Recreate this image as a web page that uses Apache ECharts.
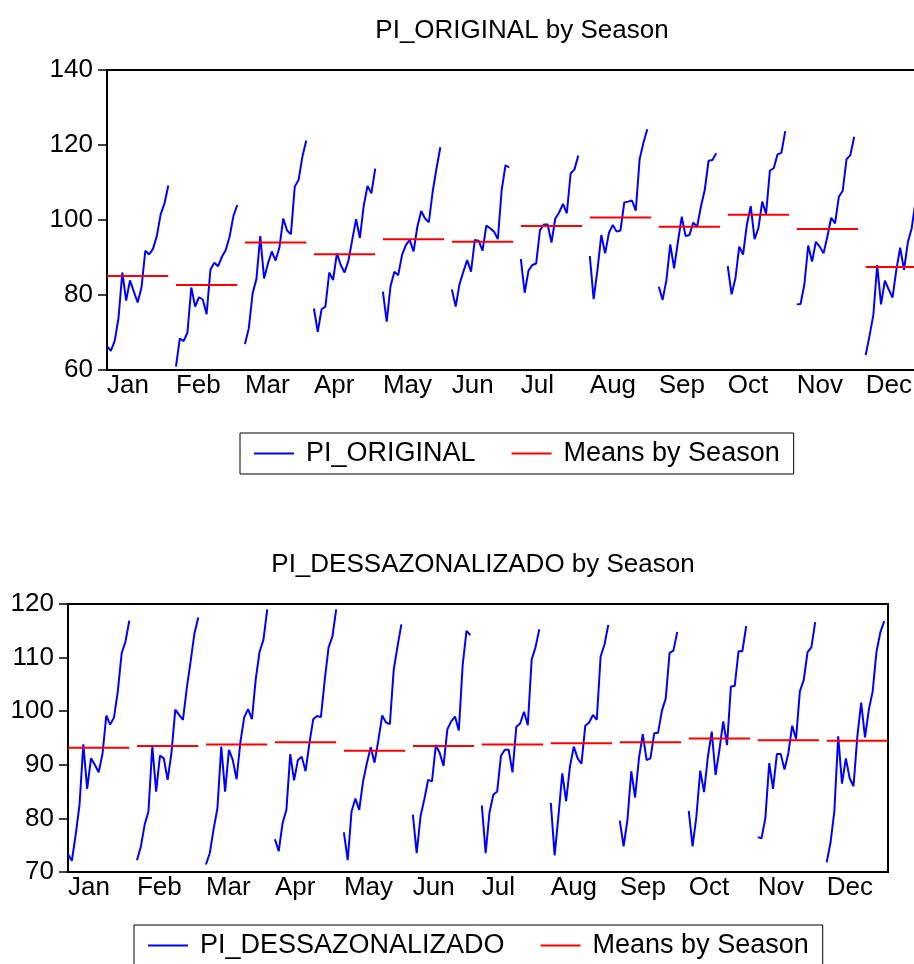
<!DOCTYPE html>
<html>
<head>
<meta charset="utf-8">
<script src="https://cdn.jsdelivr.net/npm/echarts@6/dist/echarts.min.js"></script>
<style>
  html, body { margin: 0; padding: 0; background: #fff; overflow: hidden; }
  /* wider than the window: the top plot runs past the right edge, as in the original */
  #chart { width: 940px; height: 964px; }
</style>
</head>
<body>
<div id="chart"></div>
<script>
var months = ['Jan', 'Feb', 'Mar', 'Apr', 'May', 'Jun', 'Jul', 'Aug', 'Sep', 'Oct', 'Nov', 'Dec'];

// PI_ORIGINAL, one row per month (years in order)
var origJan = [66.4, 65.1, 67.7, 73.8, 86.0, 78.5, 83.9, 80.9, 78.0, 82.0, 91.8, 90.8, 92.3, 95.7, 101.5, 104.4, 109.2];
var origFeb = [60.9, 68.4, 67.7, 70.0, 82.0, 76.9, 79.4, 78.8, 74.9, 86.8, 88.6, 87.7, 90.2, 92.0, 95.6, 101.1, 104.0];
var origMar = [66.9, 71.1, 80.4, 84.3, 95.7, 84.4, 88.4, 91.6, 89.2, 92.7, 100.4, 97.2, 96.2, 108.9, 110.7, 116.9, 121.2];
var origApr = [76.4, 70.2, 76.2, 76.9, 86.0, 84.0, 91.1, 88.0, 86.0, 89.1, 94.7, 100.2, 95.2, 103.8, 109.1, 107.1, 113.7];
var origMay = [80.9, 72.9, 82.4, 86.2, 85.3, 90.7, 93.3, 94.7, 91.6, 98.2, 102.4, 100.4, 99.4, 107.6, 113.8, 119.4];
var origJun = [81.5, 76.9, 82.9, 86.2, 89.3, 86.2, 94.7, 94.5, 91.8, 98.5, 97.8, 96.9, 94.9, 108.0, 114.6, 114.0];
var origJul = [89.6, 80.6, 86.5, 88.0, 88.4, 97.3, 98.8, 98.8, 94.0, 100.4, 102.0, 104.3, 101.8, 112.4, 113.5, 117.2];
var origAug = [90.4, 78.9, 86.7, 96.0, 91.1, 96.6, 98.7, 96.9, 97.2, 104.7, 104.9, 105.2, 102.5, 116.2, 120.6, 124.2];
var origSep = [82.2, 78.7, 84.0, 93.5, 87.1, 94.2, 100.9, 95.7, 96.0, 99.3, 98.2, 103.6, 108.0, 115.8, 116.0, 117.8];
var origOct = [87.7, 80.2, 84.4, 92.9, 90.8, 98.8, 103.7, 94.9, 97.8, 104.9, 101.6, 113.2, 113.8, 117.5, 117.9, 123.7];
var origNov = [77.5, 77.6, 82.8, 93.2, 88.9, 94.2, 92.9, 91.1, 95.6, 100.6, 99.1, 106.2, 107.8, 116.2, 117.3, 122.2];
var origDec = [64.0, 69.1, 74.7, 88.0, 77.5, 83.8, 81.5, 79.3, 86.7, 92.6, 86.7, 94.0, 97.8, 104.9, 108.0, 113.0];
var origMeans = [85.1, 82.7, 94.0, 90.9, 94.9, 94.2, 98.4, 100.7, 98.2, 101.4, 97.6, 87.5];

// PI_DESSAZONALIZADO, one row per month
var dessJan = [73.3, 72.1, 76.9, 82.5, 93.8, 85.5, 91.2, 90.0, 88.6, 92.0, 99.2, 97.5, 98.8, 103.7, 110.8, 113.0, 116.9];
var dessFeb = [72.2, 74.7, 78.8, 81.3, 93.5, 85.0, 91.7, 91.2, 87.2, 92.2, 100.3, 99.3, 98.4, 104.3, 109.3, 114.5, 117.5];
var dessMar = [71.4, 73.5, 78.0, 81.9, 93.4, 85.0, 92.8, 90.9, 87.3, 94.3, 98.9, 100.4, 98.5, 106.0, 111.1, 113.3, 119.0];
var dessApr = [76.1, 73.9, 79.1, 81.6, 92.0, 87.1, 90.9, 91.5, 88.8, 94.0, 98.5, 99.1, 98.9, 105.8, 111.9, 113.9, 119.0];
var dessMay = [77.4, 72.2, 81.3, 83.7, 81.6, 86.9, 90.3, 93.3, 90.4, 94.6, 99.2, 97.9, 97.6, 107.7, 112.1, 116.2];
var dessJun = [80.7, 73.5, 80.4, 83.6, 87.2, 86.9, 93.7, 92.2, 89.8, 96.6, 98.1, 99.0, 96.4, 108.6, 115.0, 114.2];
var dessJul = [82.4, 73.5, 81.1, 84.4, 85.0, 91.7, 92.8, 92.8, 88.6, 97.1, 97.7, 99.9, 97.4, 109.6, 111.9, 115.3];
var dessAug = [82.9, 73.1, 80.5, 88.4, 83.2, 89.7, 93.4, 91.2, 90.2, 97.3, 97.9, 99.3, 98.4, 110.2, 112.4, 116.1];
var dessSep = [79.6, 74.8, 79.7, 88.8, 83.9, 91.2, 95.7, 90.9, 91.2, 95.9, 96.0, 100.1, 102.4, 110.9, 111.3, 114.8];
var dessOct = [81.4, 74.8, 80.4, 88.9, 84.9, 91.5, 96.2, 88.1, 92.8, 98.1, 93.7, 104.6, 104.7, 111.2, 111.2, 115.9];
var dessNov = [76.5, 76.3, 80.1, 90.3, 85.5, 92.0, 92.0, 89.1, 92.2, 97.3, 94.8, 103.7, 105.8, 111.0, 111.9, 116.6];
var dessDec = [71.8, 75.5, 81.3, 95.3, 86.5, 91.2, 87.5, 86.0, 95.3, 101.6, 95.1, 100.3, 103.7, 111.1, 114.7, 116.8];
var dessMeans = [93.2, 93.5, 93.8, 94.2, 92.6, 93.5, 93.8, 94.0, 94.2, 94.9, 94.6, 94.5];

var origTicks = [60, 80, 100, 120, 140];
var dessTicks = [70, 80, 90, 100, 110, 120];

var origRows = [origJan, origFeb, origMar, origApr, origMay, origJun, origJul, origAug, origSep, origOct, origNov, origDec];
var dessRows = [dessJan, dessFeb, dessMar, dessApr, dessMay, dessJun, dessJul, dessAug, dessSep, dessOct, dessNov, dessDec];

var SLOTS = 18;   // 17 years + 1 gap per season

function seasonLine(rows) {
    var out = [];
    rows.forEach(function (row, g) {
        row.forEach(function (v, k) { out.push([g * SLOTS + k, v]); });
        out.push([g * SLOTS + SLOTS - 1, '-']);
    });
    return out;
}
function meanLine(means) {
    var out = [];
    means.forEach(function (m, g) {
        out.push([g * SLOTS, m]);
        out.push([g * SLOTS + 16, m]);
        out.push([g * SLOTS + 17, '-']);
    });
    return out;
}

var font = 'Arial, "Liberation Sans", sans-serif';
var legendText = { color: '#000', fontFamily: font, fontSize: 27, padding: [0, 0, 0, 7] };

function xAxisFor(idx) {
    return {
        type: 'value', gridIndex: idx, min: 0, max: 214, interval: SLOTS,
        axisLine: { show: true, lineStyle: { color: '#000', width: 2 } },
        axisTick: { show: false },
        splitLine: { show: false },
        axisLabel: {
            color: '#000', fontFamily: font, fontSize: 26, align: 'left', margin: 3,
            showMaxLabel: false,
            formatter: function (v) { return months[v / SLOTS] || ''; }
        }
    };
}
function yAxisFor(idx, ticks) {
    return {
        type: 'value', gridIndex: idx,
        min: ticks[0], max: ticks[ticks.length - 1], interval: ticks[1] - ticks[0],
        axisLine: { show: true, lineStyle: { color: '#000', width: 2 } },
        axisTick: { show: true, inside: false, length: 9, lineStyle: { color: '#000', width: 1.5 } },
        splitLine: { show: false },
        axisLabel: { color: '#000', fontFamily: font, fontSize: 26, margin: 14 }
    };
}

var chart = echarts.init(document.getElementById('chart'));
chart.setOption({
    animation: false,
    backgroundColor: '#fff',
    title: [
        { text: 'PI_ORIGINAL by Season', left: 517, top: 13, textAlign: 'center',
          textStyle: { color: '#000', fontFamily: font, fontSize: 26, fontWeight: 'normal' } },
        { text: 'PI_DESSAZONALIZADO by Season', left: 478, top: 547, textAlign: 'center',
          textStyle: { color: '#000', fontFamily: font, fontSize: 26, fontWeight: 'normal' } }
    ],
    legend: [
        { data: ['PI_ORIGINAL', 'Means by Season'], left: 240, top: 433,
          borderColor: '#000', borderWidth: 1, padding: [7, 14], itemGap: 36,
          icon: 'rect', itemWidth: 40, itemHeight: 2, textStyle: legendText },
        { data: ['PI_DESSAZONALIZADO', 'Means by Season'], left: 134, top: 925,
          borderColor: '#000', borderWidth: 1, padding: [7, 14], itemGap: 36,
          icon: 'rect', itemWidth: 40, itemHeight: 2, textStyle: legendText }
    ],
    grid: [
        { left: 107, top: 70, width: 820, height: 300, show: true, borderColor: '#000', borderWidth: 2 },
        { left: 68, top: 604, width: 820, height: 268, show: true, borderColor: '#000', borderWidth: 2 }
    ],
    xAxis: [xAxisFor(0), xAxisFor(1)],
    yAxis: [yAxisFor(0, origTicks), yAxisFor(1, dessTicks)],
    series: [
        { name: 'PI_ORIGINAL', type: 'line', xAxisIndex: 0, yAxisIndex: 0, symbol: 'none',
          connectNulls: false, lineStyle: { color: '#0000ff', width: 2 }, itemStyle: { color: '#0000ff' },
          data: seasonLine(origRows) },
        { name: 'Means by Season', type: 'line', xAxisIndex: 0, yAxisIndex: 0, symbol: 'none',
          connectNulls: false, lineStyle: { color: '#ff0000', width: 2 }, itemStyle: { color: '#ff0000' },
          data: meanLine(origMeans) },
        { name: 'PI_DESSAZONALIZADO', type: 'line', xAxisIndex: 1, yAxisIndex: 1, symbol: 'none',
          connectNulls: false, lineStyle: { color: '#0000ff', width: 2 }, itemStyle: { color: '#0000ff' },
          data: seasonLine(dessRows) },
        { name: 'Means by Season', type: 'line', xAxisIndex: 1, yAxisIndex: 1, symbol: 'none',
          connectNulls: false, lineStyle: { color: '#ff0000', width: 2 }, itemStyle: { color: '#ff0000' },
          data: meanLine(dessMeans) }
    ]
});
</script>
</body>
</html>
